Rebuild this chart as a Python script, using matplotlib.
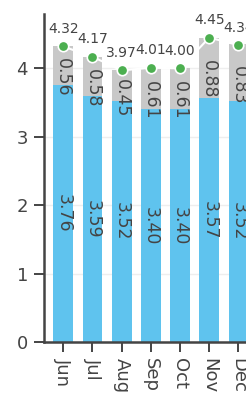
import matplotlib.pyplot as plt
import numpy as np

months = ['Jun', 'Jul', 'Aug', 'Sep', 'Oct', 'Nov', 'Dec']
base = [3.76, 3.59, 3.52, 3.40, 3.40, 3.57, 3.52]
extra = [0.56, 0.58, 0.45, 0.61, 0.61, 0.88, 0.83]
totals = [4.32, 4.17, 3.97, 4.01, 4.00, 4.45, 4.34]

text_col = '#444444'
blue = '#5fc3ee'
grey = '#c8c8c8'
green = '#4caf50'

fig = plt.figure(figsize=(2.46, 3.93), dpi=100)
ax = fig.add_axes([44 / 246, 51 / 393, 202 / 246, 328 / 393])

x = np.arange(len(months))
w = 0.68
ax.bar(x, base, width=w, color=blue, zorder=2)
ax.bar(x, extra, width=w, bottom=base, color=grey, zorder=2)

# value labels inside the bars
for i in range(len(months)):
    ax.text(x[i], base[i] / 2, f'{base[i]:.2f}', rotation=-90, ha='center', va='center',
            fontsize=12.5, color=text_col, zorder=4)
    ax.annotate(f'{extra[i]:.2f}', (x[i], base[i] + extra[i] / 2), xytext=(0, -12),
                textcoords='offset pixels', rotation=-90, ha='center', va='center',
                fontsize=12.5, color=text_col, zorder=4, annotation_clip=False)

# totals line
ax.plot(x, totals, color='white', lw=1.5, zorder=3, clip_on=False)
ax.plot(x, totals, 'o', ms=7.5, mfc=green, mec='white', mew=1.2, zorder=5, clip_on=False)
for i in range(len(months)):
    ax.annotate(f'{totals[i]:.2f}', (x[i], totals[i]), xytext=(0, 17.5),
                textcoords='offset pixels', ha='center', va='center',
                fontsize=10, color=text_col, zorder=6, annotation_clip=False)

ax.set_xlim(-0.661, 6.257)
ax.set_ylim(0, 4.795)
ax.set_yticks([0, 1, 2, 3, 4])
ax.set_xticks(x)
ax.set_xticklabels(months, rotation=-90)
ax.grid(axis='y', color='#eeeeee', lw=1, zorder=0)
ax.set_axisbelow(True)

for s in ['top', 'right']:
    ax.spines[s].set_visible(False)
for s in ['left', 'bottom']:
    ax.spines[s].set_color(text_col)
    ax.spines[s].set_linewidth(1.8)

ax.tick_params(axis='both', length=7.2, width=1.4, color=text_col, labelcolor=text_col,
               labelsize=13, pad=4.3)
for lab in ax.get_xticklabels():
    lab.set_va('top')

fig.savefig('out.png', dpi=100)
